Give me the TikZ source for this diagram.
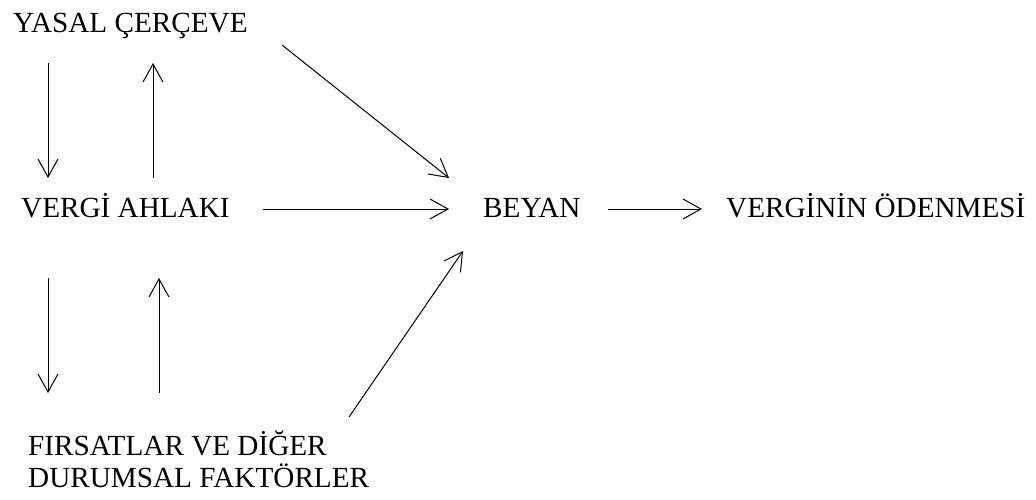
\documentclass[tikz,border=0pt]{standalone}
\usepackage{fontspec}
\setmainfont{Liberation Serif}
\usetikzlibrary{arrows.meta}
\begin{document}
\begin{tikzpicture}[x=1pt,y=-1pt,
  lbl/.style={anchor=base west,inner sep=0pt,font=\fontsize{29.2}{32}\selectfont},
  arr/.style={line width=1pt,-{Straight Barb[length=18pt,width=20pt,line width=1pt]}}]
\useasboundingbox[fill=white] (0,0) rectangle (1036,499);
\node[lbl] (yasal) at (13,32) {YASAL ÇERÇEVE};
\node[lbl] (vergi) at (21,217) {VERGİ AHLAKI};
\node[lbl] (beyan) at (483,217) {BEYAN};
\node[lbl] (odeme) at (726,217) {VERGİNİN ÖDENMESİ};
\node[lbl] (firsat) at (28,455) {FIRSATLAR VE DİĞER};
\node[lbl] (durum) at (28,487) {DURUMSAL FAKTÖRLER};
\draw[arr] ([shift={(35,31)}]yasal.base west) -- ([shift={(27,-39)}]vergi.base west);
\draw[arr] ([shift={(132,-39)}]vergi.base west) -- ([shift={(140,31)}]yasal.base west);
\draw[arr] ([shift={(27,61)}]vergi.base west) -- ([shift={(20,-62)}]firsat.base west);
\draw[arr] ([shift={(131,-62)}]firsat.base west) -- ([shift={(138,61)}]vergi.base west);
\draw[arr] ([shift={(269,13)}]yasal.base west) -- ([shift={(-34,-39)}]beyan.base west);
\draw[arr] ([shift={(242,-8)}]vergi.base west) -- ([shift={(-34,-8)}]beyan.base west);
\draw[arr] ([shift={(321,-38)}]firsat.base west) -- ([shift={(-20,34)}]beyan.base west);
\draw[arr] ([shift={(125,-8)}]beyan.base west) -- ([shift={(-24,-8)}]odeme.base west);
\end{tikzpicture}
\end{document}
